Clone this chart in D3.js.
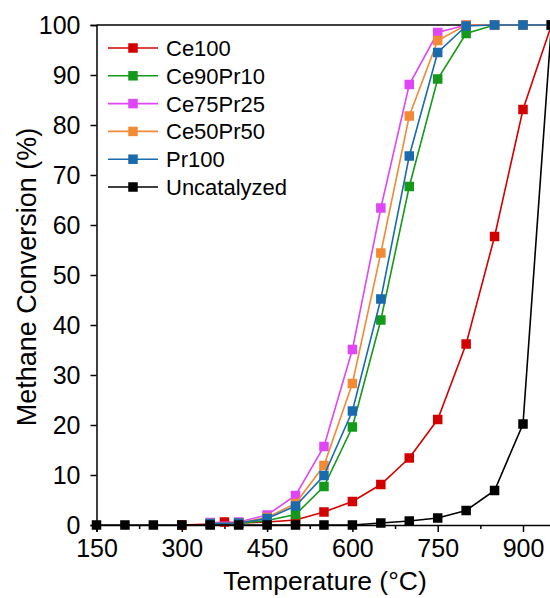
<!DOCTYPE html>
<html><head><meta charset="utf-8">
<script src="https://cdn.jsdelivr.net/npm/d3@7"></script>
<style>
html,body{margin:0;padding:0;background:#fff;}
svg{display:block;font-family:"Liberation Sans",Arial,sans-serif;}
</style></head>
<body>
<svg id="chart" width="550" height="598"></svg>
<script>
const seriesNames = ["Ce100","Ce90Pr10","Ce75Pr25","Ce50Pr50","Pr100","Uncatalyzed"];
const seriesColors = ["#d40000","#14991a","#df46f5","#f28a35","#1a6bad","#000000"];

const tempsCe100 = [300,350,375,400,450,500,550,600,650,700,750,800,850,900,950];
const valsCe100  = [0,0.2,0.6,0.4,0.6,1.0,2.6,4.7,8.1,13.4,21.1,36.2,57.7,83.1,100];

const tempsCat = [350,400,450,500,550,600,650,700,750,800,850,900,950];
const valsCe90Pr10 = [0.2,0.3,0.9,2.1,7.7,19.6,41.0,67.7,89.2,98.3,100,100,100];
const valsCe75Pr25 = [0.5,0.6,2.0,5.9,15.7,35.1,63.4,88.1,98.5,100,100,100,100];
const valsCe50Pr50 = [0.3,0.4,1.5,4.3,11.9,28.3,54.4,81.8,96.9,100,100,100,100];
const valsPr100    = [0.3,0.4,1.3,3.8,9.9,22.8,45.2,73.8,94.5,99.8,100,100,100];

const tempsUncat = [150,200,250,300,350,400,450,500,550,600,650,700,750,800,850,900,950];
const valsUncat  = [0,0,0,0,0,0,0,0,0,0,0.4,0.8,1.4,2.9,6.9,20.2,100];

const xTicks = [150,300,450,600,750,900];
const xMinorTicks = [225,375,525,675,825];
const yTicks = [0,10,20,30,40,50,60,70,80,90,100];

const seriesX = [tempsCe100,tempsCat,tempsCat,tempsCat,tempsCat,tempsUncat];
const seriesY = [valsCe100,valsCe90Pr10,valsCe75Pr25,valsCe50Pr50,valsPr100,valsUncat];
const series = seriesNames.map((n,i)=>({name:n,color:seriesColors[i],
  pts:seriesX[i].map((t,j)=>({x:t,y:seriesY[i][j]}))}));

const svg = d3.select("#chart");
const x0 = 96.5, x1 = 96.5 + (950-150)*(523-96.5)/750;
const x = d3.scaleLinear().domain([150,950]).range([x0,x1]);
const y = d3.scaleLinear().domain([0,100]).range([525,25]);

// frame top line
svg.append("line").attr("x1",x0).attr("x2",x1).attr("y1",y(100)).attr("y2",y(100))
  .attr("stroke","#000").attr("stroke-width",1.5);

// x axis
const gx = svg.append("g").attr("transform",`translate(0,${y(0)})`)
  .call(d3.axisBottom(x).tickValues(xTicks).tickSize(7).tickPadding(7).tickFormat(d3.format("d")));
gx.select(".domain").attr("stroke-width",1.5);
gx.selectAll(".tick line").attr("stroke-width",1.5);
gx.selectAll("text").attr("font-size",25).attr("font-family","Liberation Sans, Arial, sans-serif");
const gxm = svg.append("g").attr("transform",`translate(0,${y(0)})`)
  .call(d3.axisBottom(x).tickValues(xMinorTicks).tickSize(4).tickFormat(""));
gxm.select(".domain").remove();
gxm.selectAll(".tick line").attr("stroke-width",1.5);

// y axis
const gy = svg.append("g").attr("transform",`translate(${x0},0)`)
  .call(d3.axisLeft(y).tickValues(yTicks).tickSize(6).tickPadding(10).tickFormat(d3.format("d")));
gy.select(".domain").attr("stroke-width",1.5);
gy.selectAll(".tick line").attr("stroke-width",1.5);
gy.selectAll("text").attr("font-size",25).attr("font-family","Liberation Sans, Arial, sans-serif");

// titles
svg.append("text").attr("x",325).attr("y",590).attr("text-anchor","middle")
  .attr("font-size",26.5).text("Temperature (°C)");
svg.append("text").attr("transform",`translate(36,277) rotate(-90)`).attr("text-anchor","middle")
  .attr("font-size",27).text("Methane Conversion (%)");

// lines & markers
const line = d3.line().x(d=>x(d.x)).y(d=>y(d.y));
const ms = 9.5;
series.forEach(s=>{
  const g = svg.append("g");
  g.append("path").datum(s.pts).attr("d",line).attr("fill","none")
    .attr("stroke",s.color).attr("stroke-width",1.6);
  g.selectAll("rect").data(s.pts).enter().append("rect")
    .attr("x",d=>x(d.x)-ms/2).attr("y",d=>y(d.y)-ms/2).attr("width",ms).attr("height",ms)
    .attr("fill",s.color);
});

// legend
const lg = svg.append("g");
series.forEach((s,i)=>{
  const yy = 48 + i*27.8;
  lg.append("line").attr("x1",108).attr("x2",158).attr("y1",yy).attr("y2",yy)
    .attr("stroke",s.color).attr("stroke-width",1.6);
  lg.append("rect").attr("x",133-ms/2).attr("y",yy-ms/2).attr("width",ms).attr("height",ms).attr("fill",s.color);
  lg.append("text").attr("x",166).attr("y",yy).attr("dy","0.36em").attr("font-size",22).text(s.name);
});
</script>
</body></html>
